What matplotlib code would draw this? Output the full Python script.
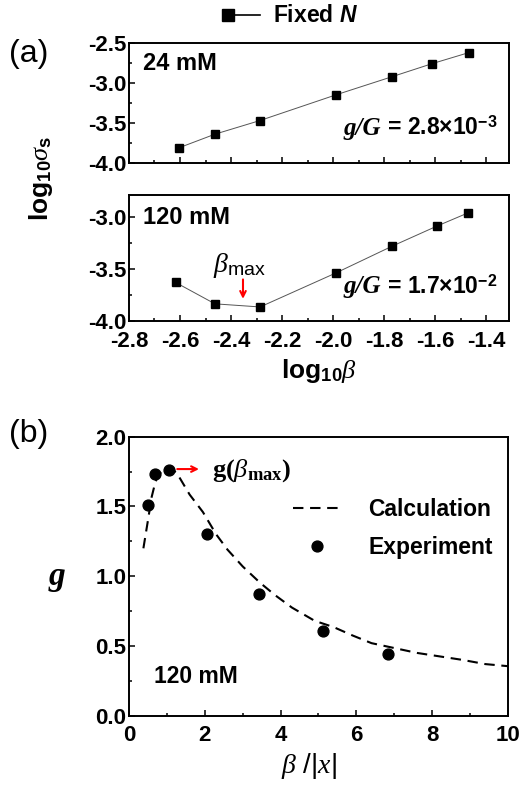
import numpy as np
import matplotlib
matplotlib.use('Agg')
import matplotlib.pyplot as plt
from matplotlib.ticker import MultipleLocator, FormatStrFormatter

plt.rcParams['font.family'] = ['Liberation Sans', 'DejaVu Sans']
plt.rcParams['mathtext.fontset'] = 'custom'
plt.rcParams['mathtext.rm'] = 'Liberation Sans:bold'
plt.rcParams['mathtext.bf'] = 'Liberation Sans:bold'
plt.rcParams['mathtext.it'] = 'Liberation Serif:italic'
plt.rcParams['mathtext.sf'] = 'Liberation Sans'
plt.rcParams['mathtext.tt'] = 'Liberation Serif:bold'
plt.rcParams['mathtext.cal'] = 'Liberation Sans:bold:italic'

# panel (a) data: log10(beta) vs log10(sigma_s)
x_24 = [-2.604, -2.463, -2.287, -1.99, -1.767, -1.613, -1.467]
y_24 = [-3.81, -3.64, -3.47, -3.15, -2.92, -2.76, -2.62]
x_120 = [-2.617, -2.463, -2.286, -1.99, -1.767, -1.594, -1.469]
y_120 = [-3.63, -3.835, -3.865, -3.54, -3.28, -3.09, -2.96]

# panel (b) data
exp_x = [0.51, 0.69, 1.05, 2.07, 3.42, 5.13, 6.84]
exp_y = [1.51, 1.735, 1.76, 1.30, 0.87, 0.605, 0.445]
calc_x = [0.38, 0.44, 0.5, 0.6, 0.7, 0.85, 1.05, 1.25, 1.6, 1.95, 2.3, 2.6, 3.0,
          3.45, 3.85, 4.3, 4.9, 5.4, 5.9, 6.4, 7.0, 7.6, 8.2, 8.8, 9.4, 10.0]
calc_y = [1.20, 1.30, 1.40, 1.57, 1.68, 1.75, 1.775, 1.745, 1.585, 1.46, 1.30, 1.19, 1.07,
          0.955, 0.865, 0.775, 0.68, 0.635, 0.575, 0.52, 0.485, 0.45, 0.425, 0.40, 0.37, 0.355]

TICK = 16
fig = plt.figure(figsize=(5.25, 7.87), dpi=100)
ax1 = fig.add_axes([0.2457, 0.7929, 0.7238, 0.1525])
ax2 = fig.add_axes([0.2457, 0.5921, 0.7238, 0.1601])
ax3 = fig.add_axes([0.2457, 0.0906, 0.7219, 0.3545])


def style(ax):
    for s in ax.spines.values():
        s.set_linewidth(1.4)
    ax.tick_params(which='both', direction='in', width=1.1, labelsize=TICK, top=False, right=False)
    ax.tick_params(which='major', length=4.5)
    ax.tick_params(which='minor', length=2.5)
    ax.tick_params(axis='y', pad=2)
    ax.tick_params(axis='x', pad=7)
    for lab in ax.get_xticklabels() + ax.get_yticklabels():
        lab.set_fontweight('bold')


for ax, xs, ys in [(ax1, x_24, y_24), (ax2, x_120, y_120)]:
    ax.plot(xs, ys, color='#555555', lw=0.7, marker='s', ms=6.3, mfc='black', mec='black')
    ax.set_xlim(-2.8, -1.31)
    ax.xaxis.set_major_locator(MultipleLocator(0.2))
    ax.xaxis.set_minor_locator(MultipleLocator(0.1))
    ax.yaxis.set_major_locator(MultipleLocator(0.5))
    ax.yaxis.set_minor_locator(MultipleLocator(0.25))
    ax.xaxis.set_major_formatter(FormatStrFormatter('%.1f'))
    ax.yaxis.set_major_formatter(FormatStrFormatter('%.1f'))

ax1.set_ylim(-4.0, -2.5)
ax2.set_ylim(-4.0, -2.79)
style(ax1)
style(ax2)
ax1.tick_params(labelbottom=False)

ax1.text(0.037, 0.83, '24 mM', transform=ax1.transAxes, fontsize=17, fontweight='bold', va='center')
ax2.text(0.037, 0.82, '120 mM', transform=ax2.transAxes, fontsize=17, fontweight='bold', va='center')

for ax, yy, val in [(ax1, 0.29, '= 2.8\u00d710$^{-3}$'), (ax2, 0.27, '= 1.7\u00d710$^{-2}$')]:
    t = ax.text(0.565, yy, 'g/G', transform=ax.transAxes, fontsize=18, fontweight='bold',
                fontstyle='italic', family='Liberation Serif', va='center')
    ax.annotate(' ' + val, xy=(1, 0.5), xycoords=t, va='center', fontsize=16.5, fontweight='bold')

ax2.annotate('', xy=(-2.353, -3.814), xytext=(-2.353, -3.574),
             arrowprops=dict(arrowstyle='->', color='red', lw=1.5))
ax2.text(-2.369, -3.47, r'$\beta_{\mathsf{max}}$', fontsize=20, ha='center', va='center')

ax2.set_xlabel(r'log$_{10}\beta$', fontsize=19, fontweight='bold', labelpad=4)
fig.text(0.079, 0.773, r'log$_{10}\sigma_{\mathrm{s}}$', rotation=90, fontsize=19,
         fontweight='bold', ha='center', va='center')

# legend for the square series, drawn above panel (a)
ax1.plot([0.26, 0.345], [1.233, 1.233], color='black', lw=1.2, transform=ax1.transAxes, clip_on=False)
ax1.plot([0.26], [1.233], 's', color='black', ms=9, transform=ax1.transAxes, clip_on=False)
ax1.text(0.379, 1.233, r'Fixed $\mathcal{N}$', transform=ax1.transAxes, fontsize=16.5,
         fontweight='bold', va='center')

fig.text(0.018, 0.931, '(a)', fontsize=23, va='center')
fig.text(0.018, 0.449, '(b)', fontsize=23, va='center')

# panel (b)
ax3.plot(calc_x, calc_y, color='black', lw=1.5, ls=(0, (5, 3.2)), label='Calculation')
ax3.plot(exp_x, exp_y, 'o', color='black', ms=7.8, label='Experiment')
ax3.set_xlim(0, 10)
ax3.set_ylim(0, 2.0)
ax3.xaxis.set_major_locator(MultipleLocator(2))
ax3.xaxis.set_minor_locator(MultipleLocator(1))
ax3.yaxis.set_major_locator(MultipleLocator(0.5))
ax3.yaxis.set_minor_locator(MultipleLocator(0.25))
ax3.yaxis.set_major_formatter(FormatStrFormatter('%.1f'))
style(ax3)

ax3.legend(loc='upper right', bbox_to_anchor=(1.014, 0.855), frameon=False,
           prop={'size': 16.5, 'weight': 'bold'}, handlelength=2.1, handletextpad=1.2,
           labelspacing=0.65)

ax3.annotate('', xy=(1.92, 1.768), xytext=(1.2, 1.768),
             arrowprops=dict(arrowstyle='->', color='red', lw=1.5))
ax3.text(2.19, 1.76, r'g($\beta_{\mathtt{max}}$)', family='Liberation Serif', fontweight='bold',
         fontsize=19, va='center')
ax3.text(0.065, 0.14, '120 mM', transform=ax3.transAxes, fontsize=16.5, fontweight='bold', va='center')

ax3.set_xlabel(r'$\beta$ /|$x$|', fontsize=20)
ax3.xaxis.set_label_coords(0.475, -0.125)
ax3.set_ylabel('g', family='Liberation Serif', fontstyle='italic', fontweight='bold',
               fontsize=24, rotation=0, va='center')
ax3.yaxis.set_label_coords(-0.19, 0.5)

fig.savefig('out.png', dpi=100)
